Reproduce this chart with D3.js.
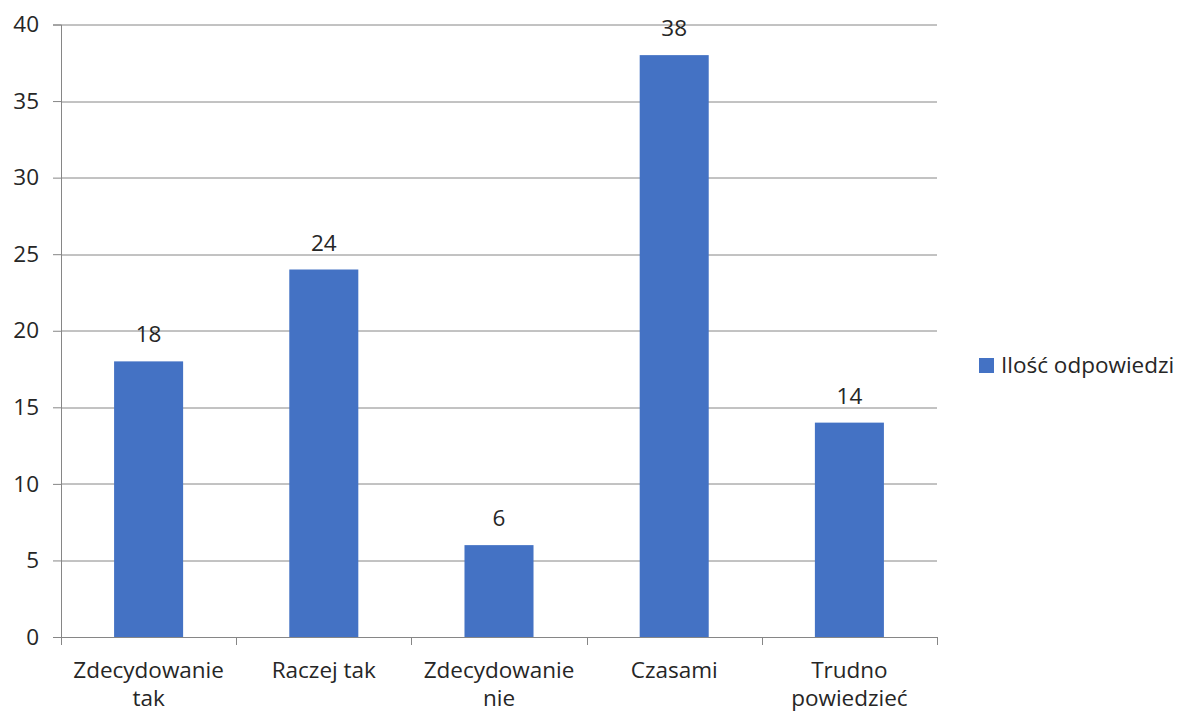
<!DOCTYPE html>
<html>
<head>
<meta charset="utf-8">
<script src="https://cdn.jsdelivr.net/npm/d3@7"></script>
<style>
  body { margin: 0; background: #fff; }
  text { font-family: "Open Sans", Lato, sans-serif; fill: #262626; }
</style>
</head>
<body>
<div id="chart"></div>
<script>
// chart data
const categories = [['Zdecydowanie', 'tak'], ['Raczej tak'], ['Zdecydowanie', 'nie'], ['Czasami'], ['Trudno', 'powiedzieć']];
const values = [18, 24, 6, 38, 14];
const yTicks = [0, 5, 10, 15, 20, 25, 30, 35, 40];
const seriesName = 'Ilość odpowiedzi';

const width = 1184, height = 713;
const margin = {top: 24.5, right: 247, bottom: 76, left: 61};
const plotW = width - margin.left - margin.right;
const plotH = height - margin.top - margin.bottom;
const fontSize = '22.5px';

const svg = d3.select('#chart').append('svg')
  .attr('width', width)
  .attr('height', height);

const main = svg.append('g')
  .attr('transform', `translate(${margin.left},${margin.top})`);

const x = d3.scaleBand()
  .domain(d3.range(categories.length))
  .range([0, plotW])
  .paddingInner(0.606)
  .paddingOuter(0.303);

const xOuter = d3.scaleBand()
  .domain(d3.range(categories.length))
  .range([0, plotW]);

const y = d3.scaleLinear().domain([0, 40]).range([plotH, 0]);

// gridlines
main.append('g')
  .selectAll('line')
  .data(yTicks.filter(d => d > 0))
  .join('line')
  .attr('x1', 0).attr('x2', plotW)
  .attr('y1', d => Math.round(y(d)) + 0.5)
  .attr('y2', d => Math.round(y(d)) + 0.5)
  .attr('stroke', '#868686');

// y axis
const yAxis = d3.axisLeft(y).tickValues(yTicks).tickSize(8).tickPadding(14);
const yg = main.append('g').call(yAxis);
yg.select('.domain').attr('stroke', '#868686');
yg.selectAll('.tick line').attr('stroke', '#868686');
yg.selectAll('.tick text')
  .style('font-size', fontSize)
  .style('font-family', '"Open Sans", sans-serif')
  .attr('fill', '#262626');

// bars
main.append('g')
  .selectAll('rect')
  .data(values)
  .join('rect')
  .attr('x', (d, i) => x(i))
  .attr('y', d => y(d))
  .attr('width', x.bandwidth())
  .attr('height', d => plotH - y(d))
  .attr('fill', '#4472C4');

// x axis
const xg = main.append('g').attr('transform', `translate(0,${plotH})`);
xg.append('line')
  .attr('x1', 0).attr('x2', plotW)
  .attr('y1', 0.5).attr('y2', 0.5)
  .attr('stroke', '#868686');
xg.selectAll('.xtick')
  .data(d3.range(categories.length + 1))
  .join('line')
  .attr('x1', i => Math.round(i * xOuter.step()) + 0.5)
  .attr('x2', i => Math.round(i * xOuter.step()) + 0.5)
  .attr('y1', 0).attr('y2', 8)
  .attr('stroke', '#868686');

// category labels, two lines where needed
xg.selectAll('.xlabel')
  .data(categories)
  .join('text')
  .attr('text-anchor', 'middle')
  .style('font-size', fontSize)
  .attr('transform', (d, i) => `translate(${xOuter(i) + xOuter.bandwidth() / 2},41)`)
  .selectAll('tspan')
  .data(d => d)
  .join('tspan')
  .attr('x', 0)
  .attr('dy', (d, j) => j === 0 ? 0 : 28)
  .text(d => d);

// data labels
main.append('g')
  .selectAll('text')
  .data(values)
  .join('text')
  .attr('x', (d, i) => x(i) + x.bandwidth() / 2)
  .attr('y', d => y(d) - 19)
  .attr('text-anchor', 'middle')
  .style('font-size', fontSize)
  .text(d => d);

// legend
const legend = svg.append('g').attr('transform', 'translate(979,358)');
legend.append('rect')
  .attr('width', 15).attr('height', 15)
  .attr('fill', '#4472C4');
legend.append('text')
  .attr('x', 22).attr('y', 15)
  .style('font-size', fontSize)
  .text(seriesName);
</script>
</body>
</html>
